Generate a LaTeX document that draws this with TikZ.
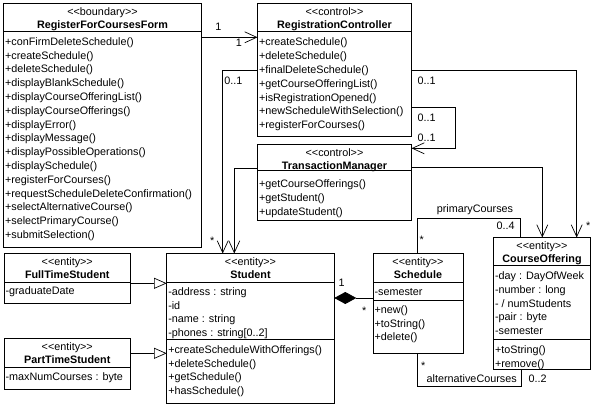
\documentclass[tikz,border=0pt]{standalone}
\usepackage{fontspec}
\setmainfont{Liberation Sans}
\usetikzlibrary{arrows.meta}

\newcommand\umlfont{\fontsize{10.8}{13.8}\selectfont}
\newcommand\stereo[1]{<{}<#1>{}>}

\tikzset{
	classbox/.style={draw, inner sep=0pt, outer sep=0pt, anchor=north west},
	head/.style={align=center, inner sep=0pt, anchor=north},
	members/.style={align=left, inner sep=0pt, anchor=north west},
	tag/.style={inner sep=0pt, text height=7.8pt, text depth=0pt},
	assoc/.style={-{Straight Barb[length=12pt,width=11pt]}},
	inherit/.style={-{Triangle[open,length=12.7pt,width=11pt]}},
	compose/.style={{Diamond[length=22pt,width=12pt]}-},
}

\begin{document}
\begin{tikzpicture}[x=1pt, y=-1pt, line width=0.7pt, font=\umlfont]
				\useasboundingbox (0,0) rectangle (595,410);

				% boundary
				\node (form) [classbox, minimum width=198pt, minimum height=243.5pt] at (3.5,3.5) {};
				\node (formHead) [head] at ([yshift=-2]form.north) {\strut\stereo{boundary}\\[-0.8pt]\textbf{RegisterForCoursesForm}};
				\draw ([yshift=-27.5]form.north west) -- ([yshift=-27.5]form.north east);
				\node (formOps) [members] at ([xshift=1.2,yshift=-31.7]form.north west) {\strut+conFirmDeleteSchedule()\\+createSchedule()\\+deleteSchedule()\\+displayBlankSchedule()\\+displayCourseOfferingList()\\+displayCourseOfferings()\\+displayError()\\+displayMessage()\\+displayPossibleOperations()\\+displaySchedule()\\+registerForCourses()\\+requestScheduleDeleteConfirmation()\\+selectAlternativeCourse()\\+selectPrimaryCourse()\\+submitSelection()};

				% controls
				\node (rc) [classbox, minimum width=154pt, minimum height=133pt] at (257.5,3.5) {};
				\node (rcHead) [head] at ([yshift=-2]rc.north) {\strut\stereo{control}\\[-0.8pt]\textbf{RegistrationController}};
				\draw ([yshift=-28.2]rc.north west) -- ([yshift=-28.2]rc.north east);
				\node (rcOps) [members] at ([xshift=1.2,yshift=-32.4]rc.north west) {\strut+createSchedule()\\+deleteSchedule()\\+finalDeleteSchedule()\\+getCourseOfferingList()\\+isRegistrationOpened()\\+newScheduleWithSelection()\\+registerForCourses()};

				\node (tm) [classbox, minimum width=154pt, minimum height=76pt] at (257.5,144) {};
				\node (tmHead) [head] at ([yshift=-2]tm.north) {\strut\stereo{control}\\[-0.8pt]\textbf{TransactionManager}};
				\draw ([yshift=-26.7]tm.north west) -- ([yshift=-26.7]tm.north east);
				\node (tmOps) [members] at ([xshift=1.2,yshift=-33.4]tm.north west) {\strut+getCourseOfferings()\\+getStudent()\\+updateStudent()};

				% entities
				\node (fts) [classbox, minimum width=126.5pt, minimum height=50pt] at (4,253.5) {};
				\node (ftsHead) [head] at ([yshift=-2]fts.north) {\strut\stereo{entity}\\[-0.8pt]\textbf{FullTimeStudent}};
				\draw ([yshift=-28.8]fts.north west) -- ([yshift=-28.8]fts.north east);
				\node (ftsAttr) [members] at ([xshift=1.2,yshift=-31.2]fts.north west) {\strut-graduateDate};

				\node (pts) [classbox, minimum width=126.5pt, minimum height=50.8pt] at (4,338.5) {};
				\node (ptsHead) [head] at ([yshift=-2]pts.north) {\strut\stereo{entity}\\[-0.8pt]\textbf{PartTimeStudent}};
				\draw ([yshift=-28.8]pts.north west) -- ([yshift=-28.8]pts.north east);
				\node (ptsAttr) [members] at ([xshift=1.2,yshift=-31.7]pts.north west) {\strut-maxNumCourses : byte};

				\node (student) [classbox, minimum width=167.6pt, minimum height=150pt] at (166.7,253.5) {};
				\node (studentHead) [head] at ([yshift=-2]student.north) {\strut\stereo{entity}\\[-0.8pt]\textbf{Student}};
				\draw ([yshift=-28.5]student.north west) -- ([yshift=-28.5]student.north east);
				\node (studentAttr) [members] at ([xshift=1.2,yshift=-31.7]student.north west) {\strut-address : string\\-id\\-name : string\\-phones : string[0..2]};
				\draw ([yshift=-86]student.north west) -- ([yshift=-86]student.north east);
				\node (studentOps) [members] at ([xshift=1.2,yshift=-89.7]student.north west) {\strut+createScheduleWithOfferings()\\+deleteSchedule()\\+getSchedule()\\+hasSchedule()};

				\node (sched) [classbox, minimum width=90pt, minimum height=100pt] at (373,253.5) {};
				\node (schedHead) [head] at ([yshift=-2]sched.north) {\strut\stereo{entity}\\[-0.8pt]\textbf{Schedule}};
				\draw ([yshift=-29]sched.north west) -- ([yshift=-29]sched.north east);
				\node (schedAttr) [members] at ([xshift=1.2,yshift=-32.2]sched.north west) {\strut-semester};
				\draw ([yshift=-46.5]sched.north west) -- ([yshift=-46.5]sched.north east);
				\node (schedOps) [members] at ([xshift=1.2,yshift=-49.7]sched.north west) {\strut+new()\\+toString()\\+delete()};

				\node (co) [classbox, minimum width=97pt, minimum height=132pt] at (493.5,237.5) {};
				\node (coHead) [head] at ([yshift=-2]co.north) {\strut\stereo{entity}\\[-0.8pt]\textbf{CourseOffering}};
				\draw ([yshift=-28]co.north west) -- ([yshift=-28]co.north east);
				\node (coAttr) [members] at ([xshift=1.2,yshift=-31.9]co.north west) {\strut-day : DayOfWeek\\-number : long\\- / numStudents\\-pair : byte\\-semester};
				\draw ([yshift=-102]co.north west) -- ([yshift=-102]co.north east);
				\node (coOps) [members] at ([xshift=1.2,yshift=-106.4]co.north west) {\strut+toString()\\+remove()};

				% associations
				\draw [assoc] ([yshift=-33.8]form.north east) -- ([yshift=-33.8]rc.north west);
				\node (formRcA) [tag] at (218.3,27) {1};
				\node (formRcB) [tag] at (239,43) {1};

				\draw [assoc] ([yshift=-67.2]rc.north west) -| ([xshift=56]student.north west);
				\node (rcStudentA) [tag] at (233.3,81) {0..1};
				\node (rcStudentB) [tag] at (212.3,240.4) {*};

				\draw [assoc] ([yshift=-24.3]tm.north west) -| ([xshift=67.6]student.north west);

				\draw [assoc] ([yshift=-67.2]rc.north east) -| ([xshift=83.2]co.north west);
				\node (rcCoA) [tag] at (426.7,81) {0..1};
				\node (rcCoB) [tag] at (588.3,225.7) {*};

				\draw [assoc] ([yshift=-104.2]rc.north east) -- ++(43.5,0) |- ([yshift=-4.3]tm.north east);
				\node (rcTmA) [tag] at (426.7,117.3) {0..1};
				\node (rcTmB) [tag] at (426.7,137.3) {0..1};

				\draw [assoc] ([yshift=-23.7]tm.north east) -| ([xshift=48.8]co.north west);

				\draw ([xshift=44.3]sched.north west) -- ++(0,-35.2) -| ([xshift=27.2]co.north west);
				\node (primary) [tag] at (475,208.3) {primaryCourses};
				\node (primaryA) [tag] at (505.7,226) {0..4};
				\node (primaryB) [tag] at (421.7,239.7) {*};

				\draw ([xshift=44.3]sched.south west) -- ++(0,33.2) -| ([xshift=27.5]co.south west);
				\node (alternative) [tag] at (471.7,378.3) {alternativeCourses};
				\node (alternativeA) [tag] at (537.7,378.3) {0..2};
				\node (alternativeB) [tag] at (423.3,365.7) {*};

				% composition
				\draw [compose] ([yshift=-44.5]student.north east) -- ([yshift=-44.5]sched.north west);
				\node (studentSchedA) [tag] at (341.7,282.3) {1};
				\node (studentSchedB) [tag] at (364.3,310.1) {*};

				% generalisations
				\draw [inherit] ([yshift=-29.8]fts.north east) -- ([yshift=-29.8]student.north west);
				\draw [inherit] ([yshift=-14.8]pts.north east) -- ([yshift=-99.8]student.north west);
			\end{tikzpicture}
\end{document}
